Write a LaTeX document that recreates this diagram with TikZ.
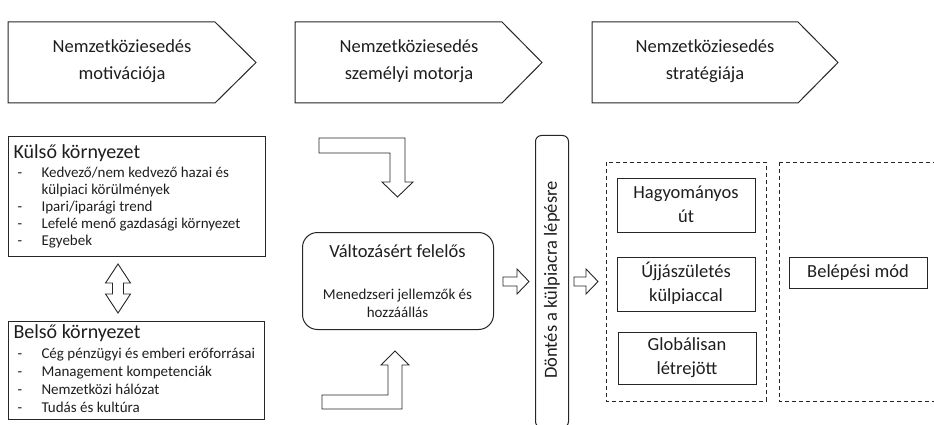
\documentclass[tikz,border=0pt]{standalone}
\usepackage{fontspec}
\setmainfont{Carlito}
\definecolor{ln}{HTML}{262626}
\definecolor{txt}{HTML}{1E1E1E}
\begin{document}
\begin{tikzpicture}[x=1pt,y=-1pt,line width=1pt,
  every node/.style={text=txt,inner sep=0pt},
  big/.style={font=\fontsize{18.5}{24}\selectfont,align=center},
  head/.style={font=\fontsize{18.5}{27}\selectfont,align=center},
  small/.style={font=\fontsize{15}{17}\selectfont,anchor=base west},
  title/.style={font=\fontsize{20}{23}\selectfont,anchor=base west},
  shp/.style={draw=ln,fill=white,line join=miter},
  boxx/.style={draw=ln,rectangle,anchor=north west},
  dbox/.style={draw=ln,dash pattern=on 4pt off 3pt},
  blk/.style={draw=ln,line width=0.9pt,fill=white,line join=miter}]
\useasboundingbox (0,0) rectangle (934,425);
\clip (0,0) rectangle (934,425);

% header pentagons
\draw[shp] (8,22) -- (215,22) -- (256,62.5) -- (215,103) -- (8,103) -- cycle;
\node[head] (h1) at (122,61.5) {Nemzetköziesedés\\motivációja};
\draw[shp] (295,22) -- (502,22) -- (542,62.5) -- (502,103) -- (295,103) -- cycle;
\node[head] (h2) at (409,61.5) {Nemzetköziesedés\\személyi motorja};
\draw[shp] (592,22) -- (798,22) -- (838,62.5) -- (798,103) -- (592,103) -- cycle;
\node[head] (h3) at (705,61.5) {Nemzetköziesedés\\stratégiája};

% Kulso kornyezet
\node[boxx,minimum width=257,minimum height=120] (kulso) at (8,136) {};
\node[title] (kt) at (13,158) {Külső környezet};
\node[small] (k1d) at (17,177) {-};
\node[small] (k1) at (41,177) {Kedvező/nem\ kedvező\ hazai és};
\node[small] (k1b) at (41,194) {külpiaci\ körülmények};
\node[small] (k2d) at (17,211) {-};
\node[small] (k2) at (41,211) {Ipari/iparági trend};
\node[small] (k3d) at (17,228) {-};
\node[small] (k3) at (41,228) {Lefelé\ menő\ gazdasági környezet};
\node[small] (k4d) at (17,245) {-};
\node[small] (k4) at (41,245) {Egyebek};

% Belso kornyezet
\node[boxx,minimum width=256,minimum height=98] (belso) at (8,321) {};
\node[title] (bt) at (13,338) {Belső környezet};
\node[small] (b1d) at (17,358) {-};
\node[small] (b1) at (41,358) {Cég pénzügyi és emberi\ erőforrásai};
\node[small] (b2d) at (17,376) {-};
\node[small] (b2) at (41,376) {Management\ kompetenciák};
\node[small] (b3d) at (17,394) {-};
\node[small] (b3) at (41,394) {Nemzetközi\ hálózat};
\node[small] (b4d) at (17,412) {-};
\node[small] (b4) at (41,412) {Tudás és kultúra};

% double arrow
\draw[blk] (118,264) -- (130.5,283) -- (123.5,283) -- (123.5,294) -- (130.5,294)
  -- (118,313) -- (105.5,294) -- (112.5,294) -- (112.5,283) -- (105.5,283) -- cycle;

% bent arrows
\draw[blk] (319,138) -- (405,138) -- (405,182) -- (413,182) -- (397.5,197)
  -- (382,182) -- (390,182) -- (390,153) -- (319,153) -- cycle;
\draw[blk] (322,395) -- (388,395) -- (388,365) -- (381,365) -- (395,351)
  -- (409,365) -- (402,365) -- (402,409) -- (322,409) -- cycle;

% Valtozasert felelos
\node[draw=ln,rectangle,rounded corners=15pt,minimum width=191,minimum height=97,anchor=north west] (valt) at (302,232) {};
\node[font=\fontsize{18.5}{23}\selectfont] (vt) at (397.5,251) {Változásért felelős};
\node[font=\fontsize{15}{18}\selectfont,align=center] (vs) at (397.5,303.5) {Menedzseri\ jellemzők\ és\\hozzáállás};

% right arrows
\draw[blk] (503,277) -- (517,277) -- (517,269) -- (529,281.5) -- (517,294) -- (517,286) -- (503,286) -- cycle;
\draw[blk] (574,277) -- (586,277) -- (586,269) -- (598,281.5) -- (586,294) -- (586,286) -- (574,286) -- cycle;

% Dontes
\node[draw=ln,rectangle,rounded corners=6pt,minimum width=33,minimum height=292,anchor=north west] (dont) at (535,135) {};
\node[font=\fontsize{18.5}{23}\selectfont,rotate=90] (dt) at (552,280) {Döntés a külpiacra lépésre};

% dashed groups
\draw[dbox] (606,162) rectangle (766,401);
\draw[dbox] (779,162) -- (940,162) (779,162) -- (779,401) -- (940,401);

\node[boxx,minimum width=138,minimum height=54] (hag) at (617,178) {};
\node[big] (hagt) at (686,204.5) {Hagyományos\\út};
\node[boxx,minimum width=138,minimum height=54] (ujj) at (617,257) {};
\node[big] (ujjt) at (686,283.5) {Újjászületés\\külpiaccal};
\node[boxx,minimum width=138,minimum height=52] (glob) at (618,332) {};
\node[big] (globt) at (687,358) {Globálisan\\létrejött};
\node[boxx,minimum width=138,minimum height=31] (bel) at (789,257) {};
\node[big] (belt) at (858,272.5) {Belépési mód};
\end{tikzpicture}
\end{document}
